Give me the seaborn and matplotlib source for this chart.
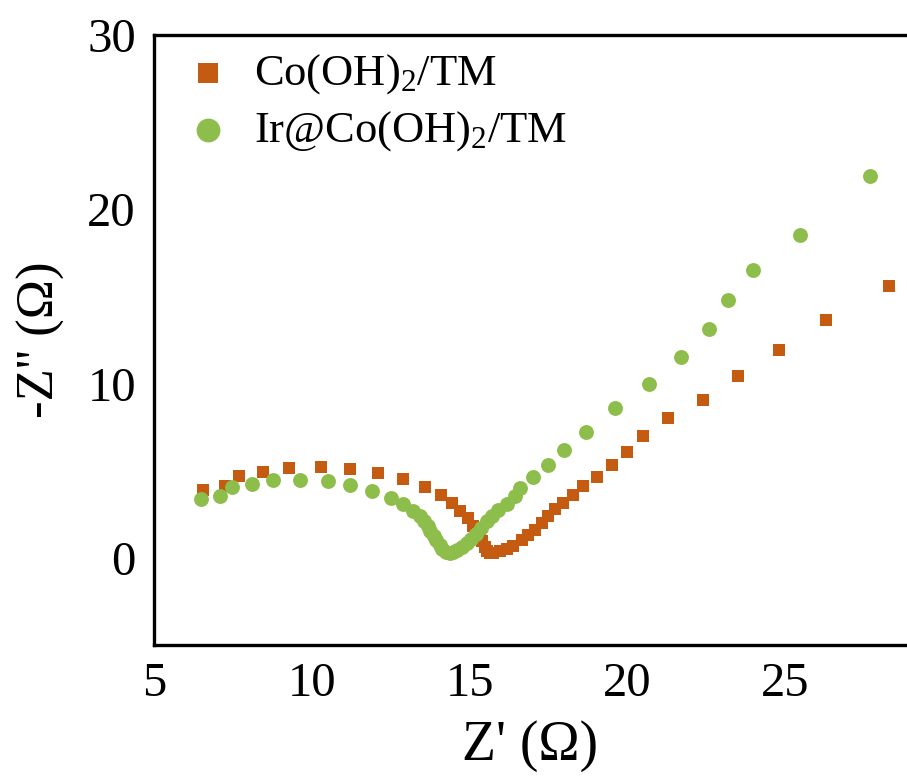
import numpy as np
import pandas as pd
import matplotlib
matplotlib.use("Agg")
import matplotlib.pyplot as plt
import seaborn as sns

# Nyquist data: Z' (ohm) and -Z'' (ohm)
co_zre = [6.55, 7.25, 7.70, 8.46, 9.27, 10.30, 11.21, 12.11, 12.90, 13.60,
          14.11, 14.43, 14.70, 14.94, 15.12, 15.32, 15.40, 15.48, 15.56, 15.65,
          15.75, 15.97, 16.18, 16.39, 16.66, 16.86, 17.08, 17.29, 17.50, 17.71,
          17.97, 18.29, 18.61, 19.04, 19.51, 19.99, 20.50, 21.30, 22.40, 23.50,
          24.80, 26.30, 28.30]
co_zim = [3.90, 4.15, 4.72, 4.93, 5.16, 5.20, 5.12, 4.86, 4.50, 4.04,
          3.59, 3.13, 2.66, 2.27, 1.84, 1.38, 0.95, 0.60, 0.37, 0.26,
          0.29, 0.37, 0.52, 0.69, 1.03, 1.29, 1.61, 2.01, 2.38, 2.78,
          3.15, 3.61, 4.13, 4.65, 5.33, 6.06, 7.02, 8.01, 9.08, 10.44,
          11.93, 13.64, 15.62]

ir_zre = [6.49, 7.10, 7.46, 8.10, 8.78, 9.64, 10.52, 11.21, 11.90, 12.51,
          12.90, 13.22, 13.43, 13.56, 13.67, 13.76, 13.86, 13.95, 14.05, 14.14,
          14.26, 14.37, 14.48, 14.60, 14.75, 14.91, 15.06, 15.22, 15.38, 15.54,
          15.70, 15.90, 16.20, 16.44, 16.59, 17.00, 17.50, 18.01, 18.69, 19.60,
          20.69, 21.69, 22.59, 23.19, 23.99, 25.49, 27.69]
ir_zim = [3.37, 3.57, 4.06, 4.23, 4.46, 4.47, 4.42, 4.19, 3.84, 3.46,
          3.10, 2.66, 2.41, 2.12, 1.84, 1.55, 1.26, 1.00, 0.75, 0.49,
          0.32, 0.26, 0.34, 0.46, 0.60, 0.83, 1.09, 1.38, 1.69, 2.09,
          2.41, 2.72, 3.10, 3.56, 4.02, 4.63, 5.33, 6.16, 7.24, 8.59,
          9.98, 11.55, 13.12, 14.82, 16.54, 18.53, 21.93]

series_names = [r"Co(OH)$_\mathrm{2}$/TM", r"Ir@Co(OH)$_\mathrm{2}$/TM"]
series_colors = ["#C55A11", "#8DBE4C"]

x_ticks = [5, 10, 15, 20, 25]
y_ticks = [0, 10, 20, 30]

sns.set_theme(style="white")
plt.rcParams["font.family"] = ["Liberation Serif", "DejaVu Serif"]
plt.rcParams["mathtext.fontset"] = "custom"
plt.rcParams["mathtext.rm"] = "Liberation Serif"
plt.rcParams["mathtext.it"] = "Liberation Serif:italic"
plt.rcParams["text.color"] = "black"

co_df = pd.DataFrame({"zre": co_zre, "zim": co_zim, "sample": series_names[0]})
ir_df = pd.DataFrame({"zre": ir_zre, "zim": ir_zim, "sample": series_names[1]})

fig = plt.figure(figsize=(9.07, 7.76), dpi=100)
ax = fig.add_axes([154 / 907, 1 - 645 / 776, 1 - 154 / 907, (645 - 35) / 776])

sns.scatterplot(data=co_df, x="zre", y="zim", ax=ax, marker="s", s=85,
                color=series_colors[0], linewidth=0, label=series_names[0])
sns.scatterplot(data=ir_df, x="zre", y="zim", ax=ax, marker="o", s=115,
                color=series_colors[1], linewidth=0, label=series_names[1])

ax.set_xlim(5, 5 + 753 / 31.55)
ax.set_ylim(-5, 30)
ax.set_xticks(x_ticks)
ax.set_yticks(y_ticks)

for side in ["left", "bottom", "top"]:
    ax.spines[side].set_linewidth(2.4)
    ax.spines[side].set_color("black")
ax.spines["right"].set_visible(False)

ax.tick_params(axis="both", which="major", direction="out", length=7,
               width=2.2, color="black", labelsize=35, labelcolor="black")
ax.tick_params(axis="x", pad=5)
ax.tick_params(axis="y", pad=6)

ax.set_xlabel("Z' (\u03a9)", fontsize=40, labelpad=10, color="black")
ax.set_ylabel("-Z'' (\u03a9)", fontsize=38, labelpad=16, color="black")

leg = ax.legend(loc="upper left", bbox_to_anchor=(-0.02, 1.045), frameon=False,
                fontsize=32, handletextpad=0.5, labelspacing=0.3,
                borderaxespad=0.6, markerscale=1.6, handlelength=1.1)
for txt in leg.get_texts():
    txt.set_color("black")

fig.savefig("out.png", dpi=100)
